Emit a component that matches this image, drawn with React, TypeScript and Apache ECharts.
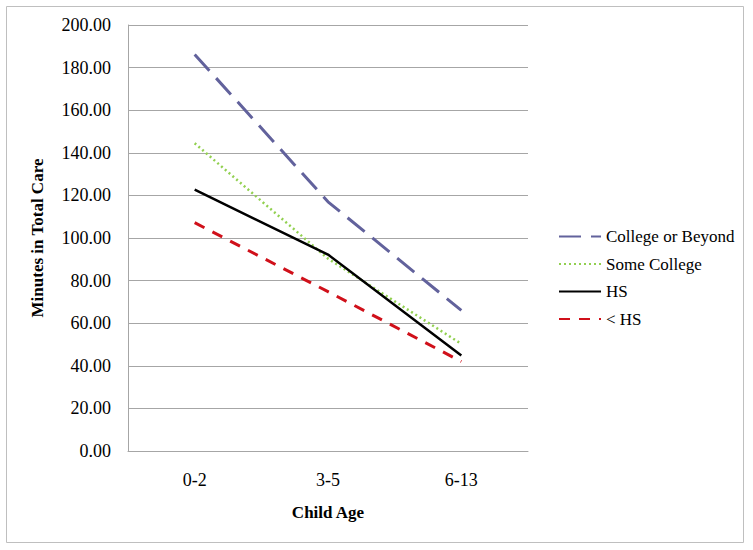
import React, { useEffect, useRef } from "react";
import * as echarts from "echarts";

const categories = ["0-2", "3-5", "6-13"];
const collegeOrBeyond = [186.2, 117.0, 66.0];
const someCollege = [144.5, 90.3, 50.3];
const hs = [122.7, 92.2, 44.8];
const lessThanHs = [107.2, 74.8, 42.0];
const yTicks = { min: 0, max: 200, interval: 20 };

const FONT = "Liberation Serif";

export default function App() {
  const ref = useRef<HTMLDivElement>(null);
  useEffect(() => {
    if (!ref.current) return;
    const chart = echarts.init(ref.current, undefined, { renderer: "svg" });
    const mk = (name: string, data: number[], color: string, width: number, type: any) => ({
      name,
      type: "line",
      data,
      symbol: "none",
      lineStyle: { color, width, type, cap: "butt" },
      itemStyle: { color },
    });
    chart.setOption({
      animation: false,
      backgroundColor: "#ffffff",
      textStyle: { fontFamily: FONT },
      graphic: [
        {
          type: "rect",
          shape: { x: 6.5, y: 6.5, width: 737, height: 536 },
          style: { fill: "none", stroke: "#bfbfbf", lineWidth: 1 },
          silent: true,
        },
      ],
      grid: { left: 128, top: 25, width: 400, height: 426, containLabel: false },
      legend: {
        orient: "vertical",
        left: 553,
        top: 223,
        itemWidth: 42,
        itemHeight: 18,
        itemGap: 10.5,
        itemStyle: { opacity: 0 },
        textStyle: { fontFamily: FONT, fontSize: 17, color: "#000" },
        data: ["College or Beyond", "Some College", "HS", "< HS"],
      },
      xAxis: {
        type: "category",
        data: categories,
        boundaryGap: true,
        name: "Child Age",
        nameLocation: "middle",
        nameGap: 53,
        nameTextStyle: { fontFamily: FONT, fontSize: 17, fontWeight: "bold", color: "#000" },
        axisLine: { lineStyle: { color: "#a6a6a6", width: 1 } },
        axisTick: { show: false },
        axisLabel: { fontFamily: FONT, fontSize: 18, color: "#000", margin: 20 },
        splitLine: { show: false },
      },
      yAxis: {
        type: "value",
        min: yTicks.min,
        max: yTicks.max,
        interval: yTicks.interval,
        name: "Minutes in Total Care",
        nameLocation: "middle",
        nameGap: 82,
        nameRotate: 90,
        nameTextStyle: { fontFamily: FONT, fontSize: 17, fontWeight: "bold", color: "#000" },
        axisLine: { show: true, lineStyle: { color: "#a6a6a6", width: 1 } },
        axisTick: { show: false },
        axisLabel: {
          fontFamily: FONT,
          fontSize: 18,
          color: "#000",
          margin: 17,
          formatter: (v: number) => v.toFixed(2),
        },
        splitLine: { show: true, lineStyle: { color: "#a6a6a6", width: 1 } },
      },
      series: [
        mk("College or Beyond", collegeOrBeyond, "#62629c", 3, [22, 10]),
        mk("Some College", someCollege, "#92d050", 2.5, [2, 3]),
        mk("HS", hs, "#000000", 2.5, "solid"),
        mk("< HS", lessThanHs, "#d0101a", 3, [11, 9]),
      ],
    });
    return () => chart.dispose();
  }, []);
  return (
    <div
      ref={ref}
      style={{ position: "fixed", left: 0, top: 0, width: 753, height: 550, background: "#fff" }}
    />
  );
}
